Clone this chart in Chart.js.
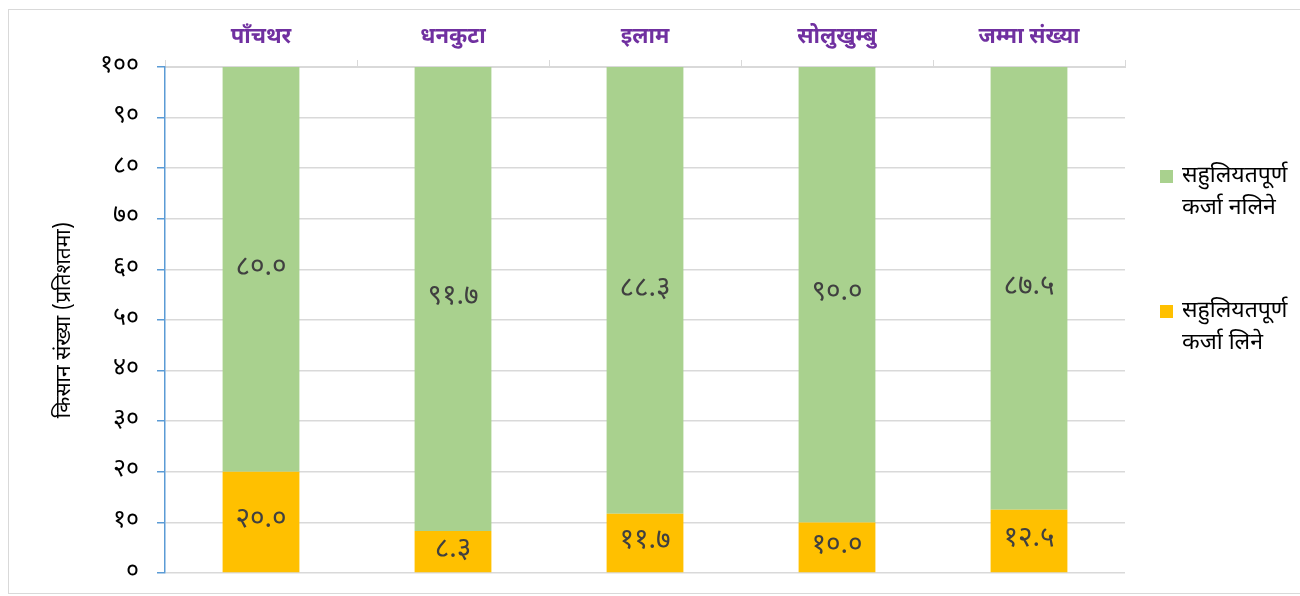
<!DOCTYPE html>
<html>
<head>
<meta charset="utf-8">
<script src="https://cdn.jsdelivr.net/npm/chart.js@4/dist/chart.umd.min.js"></script>
<style>
html,body{margin:0;padding:0;background:#fff;}
#wrap{position:relative;width:1300px;height:596px;}
</style>
</head>
<body>
<div id="wrap"><canvas id="c" width="1300" height="596"></canvas></div>
<script>
const categories = ['पाँचथर', 'धनकुटा', 'इलाम', 'सोलुखुम्बु', 'जम्मा संख्या'];
const notTaken = [80.0, 91.7, 88.3, 90.0, 87.5];
const taken = [20.0, 8.3, 11.7, 10.0, 12.5];
const seriesNames = [['सहुलियतपूर्ण', 'कर्जा नलिने'], ['सहुलियतपूर्ण', 'कर्जा लिने']];
const yAxisTitle = 'किसान संख्या (प्रतिशतमा)';

const DEV = '०१२३४५६७८९';
const toDev = s => String(s).replace(/[0-9]/g, d => DEV[+d]);
const FONT = "'Noto Sans Devanagari','Lohit Devanagari','Mangal','Noto Sans',sans-serif";

const frame = {
  id: 'frame',
  beforeDraw(chart) {
    const ctx = chart.ctx;
    ctx.save();
    ctx.strokeStyle = '#d9d9d9';
    ctx.lineWidth = 1;
    ctx.strokeRect(8.5, 9.5, 1310, 584);
    ctx.restore();
  }
};

const labels = {
  id: 'vlabels',
  afterDatasetsDraw(chart) {
    const ctx = chart.ctx;
    ctx.save();
    ctx.font = '28px ' + FONT;
    ctx.fillStyle = '#404040';
    ctx.textAlign = 'center';
    ctx.textBaseline = 'middle';
    chart.data.datasets.forEach((ds, i) => {
      chart.getDatasetMeta(i).data.forEach((el, j) => {
        ctx.fillText(toDev(ds.data[j].toFixed(1)), el.x, (el.y + el.base) / 2);
      });
    });
    ctx.restore();
  }
};

const legend = {
  id: 'customLegend',
  afterDraw(chart) {
    const ctx = chart.ctx;
    ctx.save();
    ctx.font = '23px ' + FONT;
    ctx.textBaseline = 'middle';
    ctx.textAlign = 'left';
    const order = [1, 0];
    const tops = [170, 305];
    order.forEach((di, k) => {
      const ds = chart.data.datasets[di];
      const y = tops[k];
      ctx.fillStyle = ds.backgroundColor;
      ctx.fillRect(1160, y, 13, 13);
      ctx.fillStyle = '#000';
      ds.legendLines.forEach((t, li) => ctx.fillText(t, 1182, y + 8 + li * 32));
    });
    ctx.restore();
  }
};

new Chart(document.getElementById('c'), {
  type: 'bar',
  data: {
    labels: categories,
    datasets: [
      { label: seriesNames[1].join(' '), legendLines: seriesNames[1], data: taken, backgroundColor: '#FFC000', stack: 's' },
      { label: seriesNames[0].join(' '), legendLines: seriesNames[0], data: notTaken, backgroundColor: '#A9D18E', stack: 's' }
    ]
  },
  options: {
    responsive: false,
    animation: false,
    devicePixelRatio: 1,
    categoryPercentage: 1,
    barPercentage: 0.4,
    layout: { padding: { left: 45, right: 175, top: 20, bottom: 23 } },
    plugins: { legend: { display: false }, tooltip: { enabled: false } },
    scales: {
      x: {
        position: 'top',
        stacked: true,
        offset: true,
        afterFit(s) { s.height = 47; s.paddingLeft = 0; s.paddingRight = 0; },
        border: { display: true, color: '#d9d9d9' },
        grid: { offset: true, drawOnChartArea: false, color: '#d9d9d9', tickLength: 7 },
        ticks: { color: '#7030A0', font: { family: FONT, size: 22, weight: 'bold' }, padding: 8 }
      },
      y: {
        stacked: true,
        min: 0, max: 100,
        afterFit(s) { s.width = 120; s.paddingTop = 0; s.paddingBottom = 0; },
        border: { display: true, color: '#5B9BD5', width: 1.5 },
        grid: { color: '#d9d9d9', tickColor: '#5B9BD5', tickLength: 8, lineWidth: 1.5 },
        ticks: { stepSize: 10, color: '#000', font: { family: FONT, size: 25 }, padding: 18, callback: v => toDev(v) },
        title: { display: true, text: yAxisTitle, color: '#000', font: { family: FONT, size: 21 }, padding: { top: 8, bottom: 0 } }
      }
    }
  },
  plugins: [frame, labels, legend]
});
</script>
</body>
</html>
